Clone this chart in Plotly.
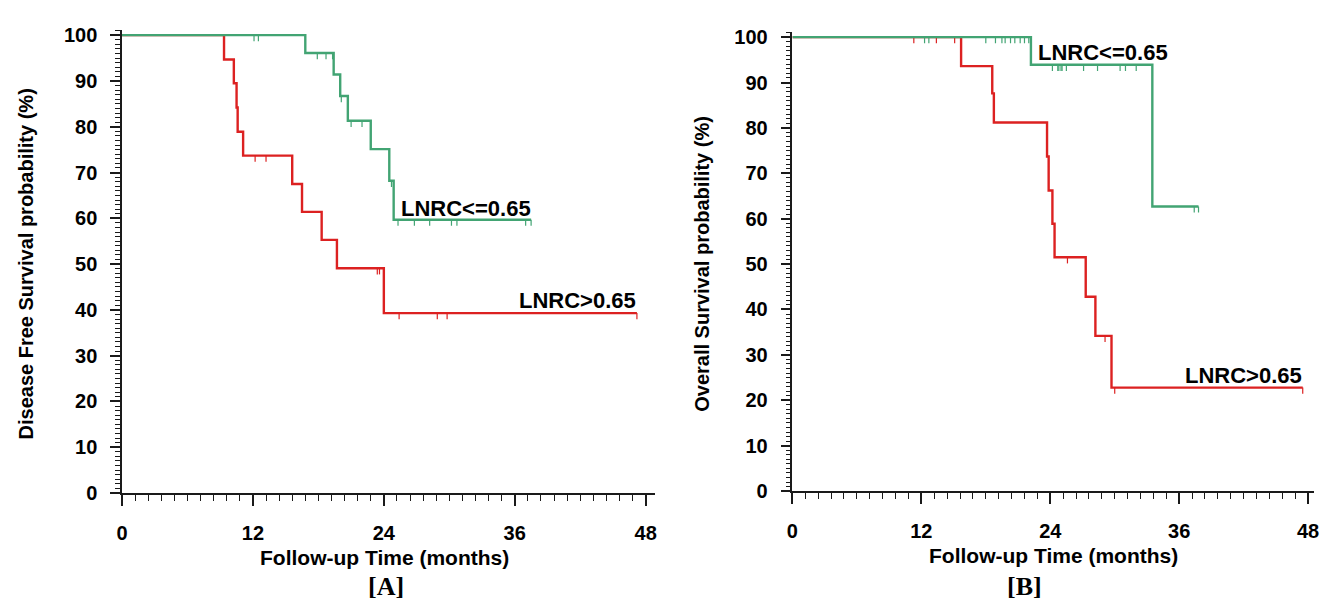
import plotly.graph_objects as go

# ---------------- data ----------------
# Panel A : Disease free survival
A_green_t = [16.8, 19.4, 20.0, 20.7, 22.8, 24.5, 24.9]
A_green_s = [96.1, 91.4, 86.7, 81.3, 75.1, 68.2, 59.7]
A_green_end = 37.5
A_green_cens = [12.1, 12.5, 17.9, 18.7, 19.3, 20.1, 21.0, 22.0, 24.7, 25.3,
                26.8, 28.2, 30.2, 30.7, 37.0, 37.5]

A_red_t = [9.35, 10.25, 10.5, 10.6, 11.1, 15.6, 16.5, 18.3, 19.7, 24.0]
A_red_s = [94.7, 89.5, 84.2, 78.9, 73.7, 67.5, 61.4, 55.3, 49.1, 39.3]
A_red_end = 47.2
A_red_cens = [12.2, 13.2, 23.4, 23.6, 25.4, 28.9, 29.8, 47.2]

# Panel B : Overall survival
B_green_t = [22.2, 33.5]
B_green_s = [93.9, 62.7]
B_green_end = 37.8
B_green_cens = [12.3, 12.7, 18.0, 18.9, 19.5, 19.8, 20.3, 20.7, 21.2, 21.6, 22.0,
                24.2, 24.7, 24.8, 25.0, 25.1, 25.5, 27.1, 28.4, 30.5, 31.0, 32.0,
                37.4, 37.8]

B_red_t = [15.7, 18.6, 18.75, 23.7, 23.85, 24.2, 24.4, 27.3, 28.2, 29.7]
B_red_s = [93.6, 87.6, 81.2, 73.7, 66.2, 58.9, 51.5, 42.8, 34.2, 22.8]
B_red_end = 47.5
B_red_cens = [11.3, 13.4, 15.1, 25.6, 29.1, 30.0, 47.5]

x_ticks = [0, 12, 24, 36, 48]
y_ticks = list(range(0, 101, 10))
group_labels = ["LNRC<=0.65", "LNRC>0.65"]

RED = "#dc2121"
GREEN = "#42a473"
AXC = "#1a1a1a"
FONT = "Liberation Sans"


def surv_at(t, ts, ss):
    s = 100.0
    for ti, si in zip(ts, ss):
        if ti <= t:
            s = si
    return s


def km_traces(ts, ss, end, cens, color, xa, ya):
    xs = [0.0] + list(ts) + [end]
    ys = [100.0] + list(ss) + [ss[-1]]
    line = go.Scatter(x=xs, y=ys, mode="lines", line=dict(color=color, width=2.4, shape="hv"),
                      xaxis=xa, yaxis=ya, showlegend=False, hoverinfo="skip")
    cx, cy = [], []
    for c in cens:
        s = surv_at(c, ts, ss)
        cx += [c, c, None]
        cy += [s, s - 1.35, None]
    tick = go.Scatter(x=cx, y=cy, mode="lines", line=dict(color=color, width=1.2),
                      xaxis=xa, yaxis=ya, showlegend=False, hoverinfo="skip")
    return [line, tick]


fig = go.Figure()
for tr in km_traces(A_red_t, A_red_s, A_red_end, A_red_cens, RED, "x", "y"):
    fig.add_trace(tr)
for tr in km_traces(A_green_t, A_green_s, A_green_end, A_green_cens, GREEN, "x", "y"):
    fig.add_trace(tr)
for tr in km_traces(B_red_t, B_red_s, B_red_end, B_red_cens, RED, "x2", "y2"):
    fig.add_trace(tr)
for tr in km_traces(B_green_t, B_green_s, B_green_end, B_green_cens, GREEN, "x2", "y2"):
    fig.add_trace(tr)

W, H = 1326, 610


def px_x(p):
    return p / W


def px_y(p):
    return (H - p) / H


tickfont = dict(family=FONT, size=20, color="black", weight="bold")

xcommon = dict(showgrid=False, zeroline=False, showline=True, linecolor=AXC, linewidth=1.5,
               ticks="outside", ticklen=11, tickwidth=1.5, tickcolor=AXC,
               tickvals=x_ticks, tickfont=tickfont, ticklabelstandoff=10,
               minor=dict(dtick=1.2, tick0=0, ticks="outside", ticklen=6, tickwidth=1, tickcolor=AXC))
ycommon = dict(showgrid=False, zeroline=False, showline=True, linecolor=AXC, linewidth=1.5,
               ticks="outside", ticklen=10, tickwidth=1.5, tickcolor=AXC,
               tickvals=y_ticks, tickfont=tickfont, ticklabelstandoff=9,
               minor=dict(dtick=1, tick0=0, ticks="outside", ticklen=5, tickwidth=1, tickcolor=AXC))

fig.update_layout(
    autosize=True, margin=dict(l=0, r=0, t=0, b=0),
    paper_bgcolor="white", plot_bgcolor="white",
    xaxis=dict(domain=[px_x(117), px_x(654)], range=[0, 48 * (654 - 117) / (645 - 117)],
               anchor="y", **xcommon),
    yaxis=dict(domain=[px_y(501), px_y(25)], range=[0, 100 * (501 - 25) / (501 - 30)],
               anchor="x", **ycommon),
    xaxis2=dict(domain=[px_x(793), px_x(1319)], range=[0, 48 * (1319 - 793) / (1313 - 793)],
                anchor="y2", **xcommon),
    yaxis2=dict(domain=[px_y(499), px_y(27)], range=[0, 100 * (499 - 27) / (499 - 32)],
                anchor="x2", **ycommon),
)

lab = dict(family=FONT, size=22, color="black", weight="bold")
ttl = dict(family=FONT, size=21, color="black", weight="bold")
ttly = dict(family=FONT, size=20, color="black", weight="bold")
ser = dict(family="Liberation Serif", size=26, color="black", weight="bold")


def pann(text, x, y, font, angle=0):
    return dict(text=text, x=px_x(x), y=px_y(y), xref="paper", yref="paper",
                xanchor="center", yanchor="middle", showarrow=False, font=font, textangle=angle)


ann = [
    dict(text=group_labels[0], x=25.4, y=62.2, xref="x", yref="y", xanchor="left", yanchor="middle",
         showarrow=False, font=lab),
    dict(text=group_labels[1], x=47.3, y=42.1, xref="x", yref="y", xanchor="right", yanchor="middle",
         showarrow=False, font=lab),
    dict(text=group_labels[0], x=22.7, y=96.7, xref="x2", yref="y2", xanchor="left", yanchor="middle",
         showarrow=False, font=lab),
    dict(text=group_labels[1], x=47.6, y=25.5, xref="x2", yref="y2", xanchor="right", yanchor="middle",
         showarrow=False, font=lab),
    pann("Follow-up Time (months)", 382, 567, ttl),
    pann("Follow-up Time (months)", 1056, 565, ttl),
    pann("Disease Free Survival probability (%)", 20, 265, ttly, -90),
    pann("Overall Survival probability (%)", 701, 265, ttly, -90),
    pann("[A]", 383, 597, ser),
    pann("[B]", 1027, 597, ser),
]
fig.update_layout(annotations=ann)

fig.write_html(
    "out.html",
    config={"responsive": True, "displayModeBar": False},
    default_width="100vw",
    default_height="100vh;position:fixed;top:0;left:0",
    post_script="document.body.style.margin='0';document.body.style.overflow='hidden';",
)
